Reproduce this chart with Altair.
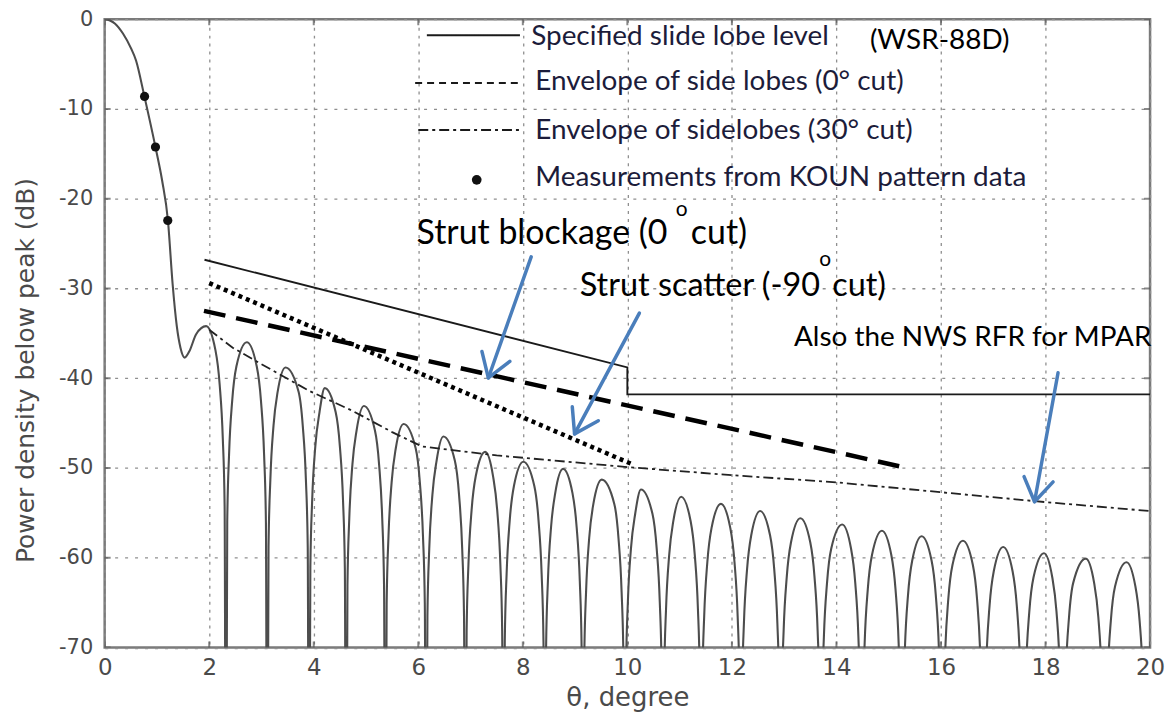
import altair as alt
import pandas as pd

# ---------------- data ----------------
# main lobe (theta in degrees, power in dB below peak)
main_x = [0.0, 0.1, 0.2, 0.35, 0.5, 0.6, 0.76, 0.97, 1.1, 1.21, 1.30, 1.38, 1.45, 1.53, 1.62, 1.75, 1.94]
main_db = [0.0, -0.15, -0.5, -1.6, -3.2, -4.6, -8.6, -14.2, -18.0, -22.4, -29.5, -34.2, -36.6, -37.7, -37.0, -35.1, -34.2]

# side lobes: nulls, peak positions and peak levels
null_x = [2.32, 3.11, 3.91, 4.62, 5.37, 6.15, 6.90, 7.63, 8.42, 9.15, 9.95, 10.68,
          11.41, 12.17, 12.93, 13.70, 14.48, 15.25, 16.02, 16.81, 17.57, 18.33, 19.13, 19.92]
peak_x = [1.94, 2.72, 3.46, 4.21, 4.96, 5.72, 6.48, 7.28, 8.01, 8.77, 9.51, 10.26,
          11.03, 11.79, 12.54, 13.31, 14.11, 14.87, 15.63, 16.42, 17.19, 17.97, 18.77, 19.55]
peak_db = [-34.2, -36.0, -38.8, -41.1, -43.1, -45.1, -46.5, -48.2, -49.3, -50.1, -51.3, -52.4,
           -53.2, -54.0, -54.8, -55.6, -56.3, -57.0, -57.6, -58.1, -58.8, -59.5, -60.1, -60.5]
# shape of one side lobe flank (distance from null in degrees, level below lobe peak)
lobe_dx = [0.025, 0.06, 0.12, 0.2]
lobe_drop = [-20.0, -12.5, -6.5, -2.7]
null_db = -100.0
tail_x = [19.945, 20.0]
tail_db = [-81.0, -72.0]

# measurements from KOUN pattern data
meas_x = [0.763, 0.972, 1.207]
meas_db = [-8.6, -14.24, -22.43]

# specified side lobe level (WSR-88D)
spec_x = [1.91, 10.0, 10.0, 20.0]
spec_db = [-26.8, -38.8, -41.8, -41.8]

# envelope of side lobes, 0 deg cut (strut blockage)
env0_x = [1.9, 15.2]
env0_db = [-32.5, -49.8]

# strut scatter (-90 deg cut)
scat_x = [2.0, 10.1]
scat_db = [-29.4, -49.6]

# envelope of sidelobes, 30 deg cut
env30_x = [2.0, 2.45, 2.96, 3.91, 4.73, 5.5, 6.07, 7.5, 10.0, 12.0, 14.0, 16.0, 17.8, 20.0]
env30_db = [-34.6, -36.6, -38.3, -41.4, -43.6, -46.0, -47.6, -48.6, -49.9, -50.8, -51.6, -52.7, -53.7, -54.8]

# ---------------- tables ----------------
rows = list(zip(main_x, main_db))
for i, (px_, pk) in enumerate(zip(peak_x, peak_db)):
    if i > 0:
        left = null_x[i - 1]
        for dx, dr in zip(lobe_dx, lobe_drop):
            rows.append((left + dx, pk + dr))
        rows.append((px_, pk))
    right = null_x[i]
    for dx, dr in reversed(list(zip(lobe_dx, lobe_drop))):
        rows.append((right - dx, pk + dr))
    rows.append((right, null_db))
rows += list(zip(tail_x, tail_db))
pattern = pd.DataFrame(rows, columns=["x", "y"])
pattern["o"] = range(len(pattern))


def df(xs, ys):
    d = pd.DataFrame({"x": xs, "y": ys})
    d["o"] = range(len(d))
    return d


W, H = 1049, 630.5

xs = alt.Scale(domain=[0, 20], nice=False, zero=False)
ys = alt.Scale(domain=[-70, 0], nice=False, zero=False)

FONT_AX = "DejaVu Sans"
AX_COL = "#4a4a4a"

xaxis = alt.Axis(values=list(range(0, 21, 2)), grid=True, gridDash=[3, 5], gridColor="#8f8f8f",
                 gridWidth=1.3, domain=False, ticks=False, labelFont=FONT_AX, labelFontSize=23,
                 labelColor=AX_COL, labelPadding=9, labelFlush=False, labelExpr="'' + datum.value",
                 titleFont=FONT_AX, titleFontSize=26, titleColor=AX_COL, titleFontWeight="normal",
                 titlePadding=5)
yaxis = alt.Axis(values=list(range(-70, 1, 10)), grid=True, gridDash=[3, 7], gridColor="#8f8f8f",
                 gridWidth=1.3, domain=False, ticks=False, labelFont=FONT_AX, labelFontSize=21,
                 labelColor=AX_COL, labelPadding=12, labelFlush=False, labelExpr="'' + datum.value",
                 titleFont=FONT_AX, titleFontSize=25,
                 titleColor=AX_COL, titleFontWeight="normal", titleX=-79, titleY=352,
                 titleAlign="center", titleBaseline="middle", titleAngle=270)

X = alt.X("x:Q", scale=xs, axis=xaxis, title="θ, degree")
Y = alt.Y("y:Q", scale=ys, axis=yaxis, title="Power density below peak (dB)")
O = alt.Order("o:Q")

base_pattern = alt.Chart(pattern).mark_line(
    color="#4d4d4d", strokeWidth=2.1, interpolate="monotone", clip=True
).encode(x=X, y=Y, order=O)

env30 = alt.Chart(df(env30_x, env30_db)).mark_line(
    color="#222222", strokeWidth=1.8, strokeDash=[10, 4, 3, 4], clip=True
).encode(x=X, y=Y, order=O)

spec = alt.Chart(df(spec_x, spec_db)).mark_line(
    color="#1a1a1a", strokeWidth=1.9, clip=True
).encode(x=X, y=Y, order=O)

env0 = alt.Chart(df(env0_x, env0_db)).mark_line(
    color="black", strokeWidth=4.5, strokeDash=[22, 11], clip=True
).encode(x=X, y=Y, order=O)

scat = alt.Chart(df(scat_x, scat_db)).mark_line(
    color="black", strokeWidth=4.5, strokeDash=[4, 4], clip=True
).encode(x=X, y=Y, order=O)

meas = alt.Chart(df(meas_x, meas_db)).mark_circle(
    color="#111111", size=85, opacity=1
).encode(x=X, y=Y)

# inner ticks on the frame
tick_x = list(range(0, 21, 2))
tick_y = list(range(-70, 1, 10))
tx = pd.DataFrame({"x": tick_x})
ty = pd.DataFrame({"y": tick_y})
ticks = [
    alt.Chart(tx).mark_tick(orient="vertical", color="#555555", thickness=2, size=12, clip=True)
    .encode(x=X, y=alt.value(H)),
    alt.Chart(tx).mark_tick(orient="vertical", color="#555555", thickness=2, size=12, clip=True)
    .encode(x=X, y=alt.value(0)),
    alt.Chart(ty).mark_tick(orient="horizontal", color="#555555", thickness=2, size=12, clip=True)
    .encode(y=Y, x=alt.value(0)),
    alt.Chart(ty).mark_tick(orient="horizontal", color="#555555", thickness=2, size=12, clip=True)
    .encode(y=Y, x=alt.value(W)),
]

# ---------------- legend (inside plot) ----------------
leg_line_x = [6.164, 5.94, 6.0]
leg_line_x2 = [7.945, 7.945, 7.945]
leg_line_y = [-1.8, -7.1, -12.35]
leg_styles = [[1, 0], [7, 5], [10, 4, 3, 4]]
leg_layers = []
for lx, lx2, ly, dash in zip(leg_line_x, leg_line_x2, leg_line_y, leg_styles):
    d = pd.DataFrame({"x": [lx], "x2": [lx2], "y": [ly]})
    leg_layers.append(
        alt.Chart(d).mark_rule(color="#1a1a1a", strokeWidth=2, strokeDash=dash)
        .encode(x=X, x2="x2:Q", y=Y)
    )
leg_layers.append(
    alt.Chart(pd.DataFrame({"x": [7.118], "y": [-17.9]})).mark_circle(color="#111111", size=95, opacity=1)
    .encode(x=X, y=Y)
)
leg_text = pd.DataFrame({
    "x": [8.16, 8.237, 8.237, 8.237],
    "y": [-2.9, -7.9, -13.3, -18.6],
    "t": ["Specified slide lobe level", "Envelope of side lobes (0° cut)",
          "Envelope of sidelobes (30° cut)", "Measurements from KOUN pattern data"],
})
leg_layers.append(
    alt.Chart(leg_text).mark_text(align="left", baseline="alphabetic", font="Lato", fontSize=28,
                                  color="#1c1c3a")
    .encode(x=X, y=Y, text="t:N")
)
leg_layers.append(
    alt.Chart(pd.DataFrame({"x": [14.64], "y": [-3.3], "t": ["(WSR-88D)"]}))
    .mark_text(align="left", baseline="alphabetic", font="Lato", fontSize=28, color="black")
    .encode(x=X, y=Y, text="t:N")
)

# ---------------- annotations ----------------
ann_a = pd.DataFrame({"x": [5.968, 11.215], "y": [-25.0, -25.0], "t": ["Strut blockage (0", "cut)"]})
ann_b = pd.DataFrame({"x": [9.089, 13.92], "y": [-30.8, -30.8], "t": ["Strut scatter (-90", "cut)"]})
ann_sup = pd.DataFrame({"x": [10.925, 13.67], "y": [-21.9, -27.5], "t": ["o", "o"]})
ann_mid = pd.DataFrame({"x": [13.188], "y": [-36.45], "t": ["Also the NWS RFR for MPAR"]})
ann_layers = [
    alt.Chart(ann_a).mark_text(align="left", baseline="alphabetic", font="Lato", fontSize=34, color="black")
    .encode(x=X, y=Y, text="t:N"),
    alt.Chart(ann_b).mark_text(align="left", baseline="alphabetic", font="Lato", fontSize=32.5, color="black")
    .encode(x=X, y=Y, text="t:N"),
    alt.Chart(ann_sup).mark_text(align="left", baseline="alphabetic", font="Lato", fontSize=21, color="black")
    .encode(x=X, y=Y, text="t:N"),
    alt.Chart(ann_mid).mark_text(align="left", baseline="alphabetic", font="Lato", fontSize=28, color="black")
    .encode(x=X, y=Y, text="t:N"),
]

# arrows: tail -> tip
arr_tail_x = [8.16, 10.23, 18.24]
arr_tail_y = [-26.48, -32.75, -39.39]
arr_tip_x = [7.34, 8.99, 17.79]
arr_tip_y = [-39.97, -46.2, -53.76]
arr_ang = [19.4, 28.1, 10.2]
ARROW_COL = "#4a7ebb"
shafts = alt.Chart(pd.DataFrame({"x": arr_tail_x, "y": arr_tail_y, "x2": arr_tip_x, "y2": arr_tip_y})).mark_rule(
    color=ARROW_COL, strokeWidth=3.5, strokeCap="round"
).encode(x=X, y=Y, x2="x2:Q", y2="y2:Q")
heads = alt.Chart(pd.DataFrame({"x": arr_tip_x, "y": arr_tip_y, "ang": arr_ang})).mark_point(
    shape="M -0.55 -0.85 L 0 0 L 0.55 -0.85", filled=False, color=ARROW_COL, strokeWidth=3.5,
    size=2900, opacity=1, strokeCap="round", strokeJoin="round"
).encode(x=X, y=Y, angle=alt.Angle("ang:Q", scale=None))

chart = alt.layer(
    base_pattern, env30, spec, env0, scat, meas, *ticks, *leg_layers, *ann_layers, shafts, heads
).properties(
    width=W, height=H,
    autosize=alt.AutoSizeParams(type="none"),
    padding={"left": 97, "top": 10, "right": 15, "bottom": 66},
    background="white",
).configure_view(stroke="#7a7a7a", strokeWidth=2.5)

chart.save("out.html", embed_options={"renderer": "svg", "actions": False})
